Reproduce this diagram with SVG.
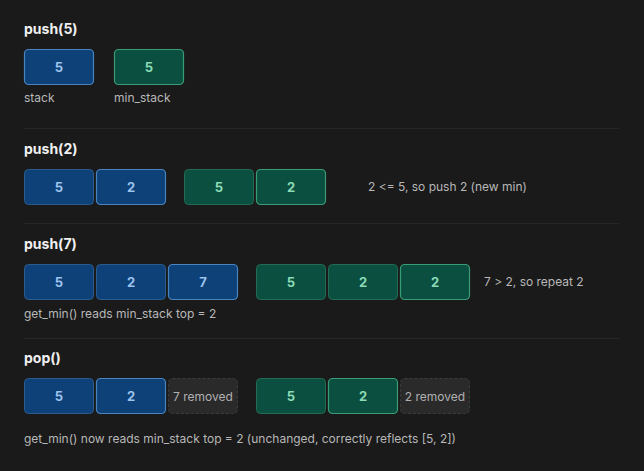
<svg xmlns="http://www.w3.org/2000/svg" width="644" height="471" viewBox="0 0 644 471">
<style>
.bg{fill:#1a1a1a}
.t{font-family:Inter,"Noto Sans",sans-serif;font-weight:700;font-size:14px;fill:#f0f0f0}
.lbl{font-family:Inter,"Noto Sans",sans-serif;font-size:12px;fill:#b8b8b8}
.v{font-family:Inter,"Noto Sans",sans-serif;font-weight:700;font-size:13px;text-anchor:middle}
.b{fill:#0d4177;stroke:#2c5c8e;stroke-width:1}
.bt{fill:#0d4177;stroke:#4a84bf;stroke-width:1.2}
.bv{fill:#9cc2ee}
.g{fill:#0a4f3f;stroke:#236b52;stroke-width:1}
.gt{fill:#0a4f3f;stroke:#3a9c77;stroke-width:1.2}
.gv{fill:#8adbb6}
.r{fill:#2a2a2a;stroke:#3c3c3c;stroke-width:1;stroke-dasharray:3 2}
.rv{font-family:Inter,"Noto Sans",sans-serif;font-size:12px;fill:#b0b0b0;text-anchor:middle}
.sep{stroke:#262626;stroke-width:1}
</style>
<rect class="bg" x="0" y="0" width="644" height="471"/>
<g id="separators">
<line class="sep" x1="24" y1="128.5" x2="620" y2="128.5"/>
<line class="sep" x1="24" y1="223.5" x2="620" y2="223.5"/>
<line class="sep" x1="24" y1="338.5" x2="620" y2="338.5"/>
</g>
<g id="step1">
<text class="t" x="24" y="34">push(5)</text>
<g id="s1-stack-0"><rect class="bt" x="24.5" y="49.5" width="69" height="35" rx="4"/><text class="v bv" x="59" y="72">5</text></g>
<g id="s1-min-0"><rect class="gt" x="114.5" y="49.5" width="69" height="35" rx="4"/><text class="v gv" x="149" y="72">5</text></g>
<text class="lbl" x="24" y="102">stack</text>
<text class="lbl" x="114" y="102">min_stack</text>
</g>
<g id="step2">
<text class="t" x="24" y="154">push(2)</text>
<g id="s2-stack-0"><rect class="b" x="24.5" y="169.5" width="69" height="35" rx="4"/><text class="v bv" x="59" y="192">5</text></g>
<g id="s2-stack-1"><rect class="bt" x="96.5" y="169.5" width="69" height="35" rx="4"/><text class="v bv" x="131" y="192">2</text></g>
<g id="s2-min-0"><rect class="g" x="184.5" y="169.5" width="69" height="35" rx="4"/><text class="v gv" x="219" y="192">5</text></g>
<g id="s2-min-1"><rect class="gt" x="256.5" y="169.5" width="69" height="35" rx="4"/><text class="v gv" x="291" y="192">2</text></g>
<text class="lbl" x="368" y="191">2 &lt;= 5, so push 2 (new min)</text>
</g>
<g id="step3">
<text class="t" x="24" y="249">push(7)</text>
<g id="s3-stack-0"><rect class="b" x="24.5" y="264.5" width="69" height="35" rx="4"/><text class="v bv" x="59" y="287">5</text></g>
<g id="s3-stack-1"><rect class="b" x="96.5" y="264.5" width="69" height="35" rx="4"/><text class="v bv" x="131" y="287">2</text></g>
<g id="s3-stack-2"><rect class="bt" x="168.5" y="264.5" width="69" height="35" rx="4"/><text class="v bv" x="203" y="287">7</text></g>
<g id="s3-min-0"><rect class="g" x="256.5" y="264.5" width="69" height="35" rx="4"/><text class="v gv" x="291" y="287">5</text></g>
<g id="s3-min-1"><rect class="g" x="328.5" y="264.5" width="69" height="35" rx="4"/><text class="v gv" x="363" y="287">2</text></g>
<g id="s3-min-2"><rect class="gt" x="400.5" y="264.5" width="69" height="35" rx="4"/><text class="v gv" x="435" y="287">2</text></g>
<text class="lbl" x="484" y="286">7 &gt; 2, so repeat 2</text>
<text class="lbl" x="24" y="318">get_min() reads min_stack top = 2</text>
</g>
<g id="step4">
<text class="t" x="24" y="363">pop()</text>
<g id="s4-stack-0"><rect class="b" x="24.5" y="378.5" width="69" height="35" rx="4"/><text class="v bv" x="59" y="401">5</text></g>
<g id="s4-stack-1"><rect class="bt" x="96.5" y="378.5" width="69" height="35" rx="4"/><text class="v bv" x="131" y="401">2</text></g>
<g id="s4-stack-removed"><rect class="r" x="168.5" y="378.5" width="69" height="35" rx="4"/><text class="rv" x="203" y="401">7 removed</text></g>
<g id="s4-min-0"><rect class="g" x="256.5" y="378.5" width="69" height="35" rx="4"/><text class="v gv" x="291" y="401">5</text></g>
<g id="s4-min-1"><rect class="gt" x="328.5" y="378.5" width="69" height="35" rx="4"/><text class="v gv" x="363" y="401">2</text></g>
<g id="s4-min-removed"><rect class="r" x="400.5" y="378.5" width="69" height="35" rx="4"/><text class="rv" x="435" y="401">2 removed</text></g>
<text class="lbl" x="24" y="443">get_min() now reads min_stack top = 2 (unchanged, correctly reflects [5, 2])</text>
</g>
</svg>
